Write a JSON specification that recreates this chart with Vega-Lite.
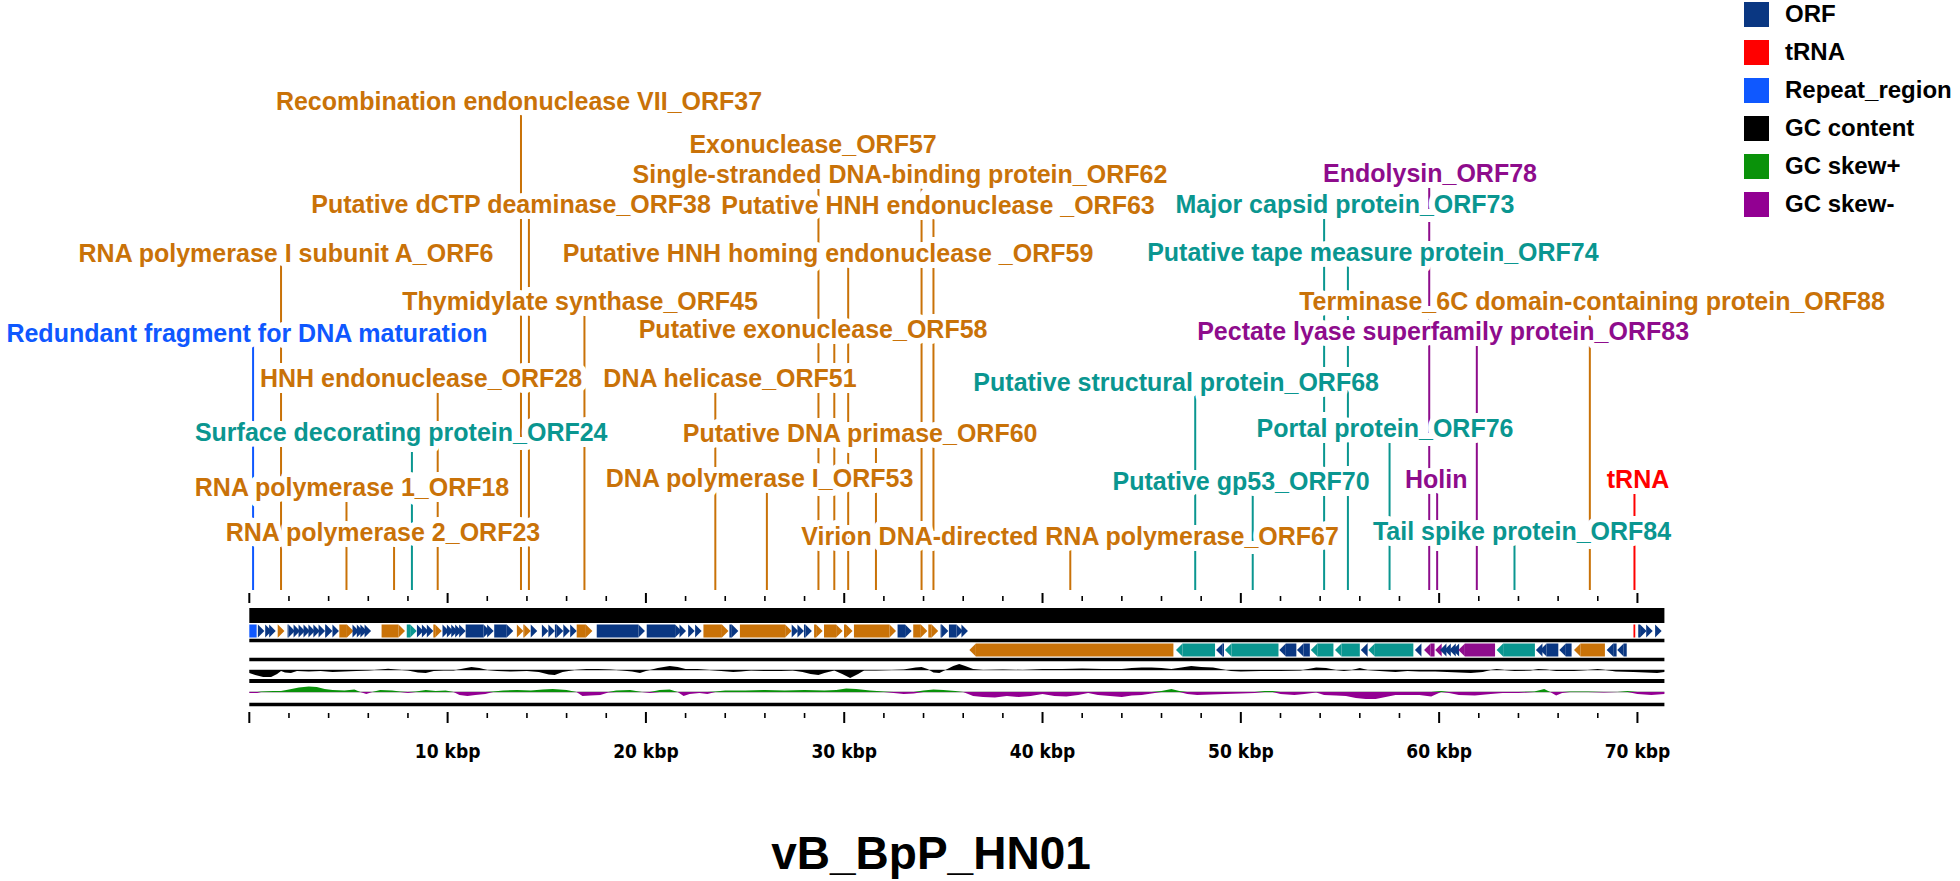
{
"$schema": "https://vega.github.io/schema/vega-lite/v6.json",
"width": 1960, "height": 881, "autosize": "none", "padding": 0,
"background": "white",
"config": {"view": {"stroke": null}, "axis": {"disable": true}},
"title": {"text": "vB_BpP_HN01", "orient": "bottom", "frame": "group", "anchor": "middle", "offset": -12, "dx": -49, "baseline": "alphabetic", "fontSize": 46, "font": "Liberation Sans", "fontWeight": "bold", "color": "#000000"},
"datasets": {
"genes": [
{"s":0.00,"e":0.37,"st":"0","c":"Repeat_region"},
{"s":69.80,"e":69.89,"st":"0","c":"tRNA"},
{"s":0.59,"e":0.76,"st":"+","c":"ORF"},{"s":0.93,"e":1.13,"st":"+","c":"ORF"},{"s":1.13,"e":1.33,"st":"+","c":"ORF"},
{"s":1.43,"e":1.77,"st":"+","c":"Replication"},
{"s":1.93,"e":2.30,"st":"+","c":"ORF"},{"s":2.30,"e":2.56,"st":"+","c":"ORF"},{"s":2.56,"e":2.81,"st":"+","c":"ORF"},{"s":2.81,"e":3.06,"st":"+","c":"ORF"},{"s":3.06,"e":3.31,"st":"+","c":"ORF"},{"s":3.31,"e":3.56,"st":"+","c":"ORF"},{"s":3.56,"e":3.82,"st":"+","c":"ORF"},{"s":3.82,"e":4.19,"st":"+","c":"ORF"},{"s":4.19,"e":4.52,"st":"+","c":"ORF"},
{"s":4.54,"e":5.25,"st":"+","c":"Replication"},
{"s":5.33,"e":5.53,"st":"+","c":"ORF"},{"s":5.53,"e":5.75,"st":"+","c":"ORF"},{"s":5.75,"e":5.93,"st":"+","c":"ORF"},{"s":5.93,"e":6.14,"st":"+","c":"ORF"},
{"s":6.67,"e":7.85,"st":"+","c":"Replication"},
{"s":7.94,"e":8.44,"st":"+","c":"Structural"},
{"s":8.52,"e":8.78,"st":"+","c":"ORF"},{"s":8.78,"e":9.03,"st":"+","c":"ORF"},{"s":9.03,"e":9.28,"st":"+","c":"ORF"},
{"s":9.28,"e":9.70,"st":"+","c":"Replication"},
{"s":9.82,"e":10.07,"st":"+","c":"ORF"},{"s":10.07,"e":10.29,"st":"+","c":"ORF"},{"s":10.29,"e":10.51,"st":"+","c":"ORF"},{"s":10.51,"e":10.71,"st":"+","c":"ORF"},{"s":10.71,"e":10.91,"st":"+","c":"ORF"},
{"s":10.91,"e":12.14,"st":"+","c":"ORF"},{"s":12.14,"e":12.32,"st":"+","c":"ORF"},{"s":12.35,"e":13.31,"st":"+","c":"ORF"},
{"s":13.48,"e":13.82,"st":"+","c":"Replication"},{"s":13.82,"e":14.19,"st":"+","c":"Replication"},
{"s":14.27,"e":14.52,"st":"+","c":"ORF"},
{"s":14.74,"e":15.08,"st":"+","c":"ORF"},{"s":15.08,"e":15.41,"st":"+","c":"ORF"},{"s":15.41,"e":15.83,"st":"+","c":"ORF"},{"s":15.83,"e":16.17,"st":"+","c":"ORF"},{"s":16.17,"e":16.51,"st":"+","c":"ORF"},
{"s":16.51,"e":17.30,"st":"+","c":"Replication"},
{"s":17.52,"e":19.95,"st":"+","c":"ORF"},{"s":20.04,"e":21.80,"st":"+","c":"ORF"},{"s":21.80,"e":22.02,"st":"+","c":"ORF"},{"s":22.14,"e":22.46,"st":"+","c":"ORF"},{"s":22.49,"e":22.81,"st":"+","c":"ORF"},
{"s":22.90,"e":24.16,"st":"+","c":"Replication"},{"s":24.21,"e":24.66,"st":"+","c":"ORF"},{"s":24.74,"e":27.35,"st":"+","c":"Replication"},
{"s":27.40,"e":27.68,"st":"+","c":"ORF"},{"s":27.68,"e":27.97,"st":"+","c":"ORF"},{"s":27.97,"e":28.37,"st":"+","c":"ORF"},
{"s":28.48,"e":28.91,"st":"+","c":"Replication"},{"s":28.98,"e":29.92,"st":"+","c":"Replication"},{"s":29.99,"e":30.42,"st":"+","c":"Replication"},{"s":30.49,"e":32.61,"st":"+","c":"Replication"},
{"s":32.69,"e":33.40,"st":"+","c":"ORF"},{"s":33.48,"e":34.19,"st":"+","c":"Replication"},{"s":34.24,"e":34.74,"st":"+","c":"Replication"},
{"s":34.86,"e":35.25,"st":"+","c":"ORF"},{"s":35.28,"e":35.99,"st":"+","c":"ORF"},{"s":35.99,"e":36.24,"st":"+","c":"ORF"},
{"s":70.04,"e":70.46,"st":"+","c":"ORF"},{"s":70.46,"e":70.77,"st":"+","c":"ORF"},{"s":71.05,"e":71.22,"st":"+","c":"ORF"},
{"s":36.31,"e":46.60,"st":"-","c":"Replication"},{"s":46.73,"e":48.70,"st":"-","c":"Structural"},{"s":48.75,"e":49.15,"st":"-","c":"ORF"},{"s":49.20,"e":51.90,"st":"-","c":"Structural"},
{"s":51.94,"e":52.80,"st":"-","c":"ORF"},{"s":52.83,"e":53.48,"st":"-","c":"ORF"},{"s":53.53,"e":54.67,"st":"-","c":"Structural"},{"s":54.75,"e":56.00,"st":"-","c":"Structural"},
{"s":56.05,"e":56.40,"st":"-","c":"ORF"},{"s":56.43,"e":58.70,"st":"-","c":"Structural"},{"s":58.78,"e":58.95,"st":"-","c":"ORF"},{"s":59.24,"e":59.77,"st":"-","c":"Lysis"},
{"s":59.80,"e":60.02,"st":"-","c":"Lysis"},{"s":60.04,"e":60.25,"st":"-","c":"ORF"},{"s":60.26,"e":60.46,"st":"-","c":"ORF"},{"s":60.51,"e":60.68,"st":"-","c":"ORF"},{"s":60.68,"e":60.88,"st":"-","c":"ORF"},
{"s":60.97,"e":62.82,"st":"-","c":"Lysis"},{"s":62.90,"e":64.83,"st":"-","c":"Structural"},{"s":64.88,"e":65.05,"st":"-","c":"ORF"},{"s":65.09,"e":66.01,"st":"-","c":"ORF"},{"s":66.06,"e":66.68,"st":"-","c":"ORF"},
{"s":66.80,"e":68.36,"st":"-","c":"Replication"},{"s":68.45,"e":68.95,"st":"-","c":"ORF"},{"s":68.98,"e":69.46,"st":"-","c":"ORF"}
],
"labels": [
{"t":"Recombination endonuclease VII_ORF37","c":"Replication","lx":13.60,"ly":101.5,"gx":13.70},
{"t":"Exonuclease_ORF57","c":"Replication","lx":28.43,"ly":144.5,"gx":28.70},
{"t":"Single-stranded DNA-binding protein_ORF62","c":"Replication","lx":32.81,"ly":174.5,"gx":33.90},
{"t":"Endolysin_ORF78","c":"Lysis","lx":59.54,"ly":173.5,"gx":59.50},
{"t":"Putative dCTP deaminase_ORF38","c":"Replication","lx":13.20,"ly":204.5,"gx":14.10},
{"t":"Putative HNH endonuclease _ORF63","c":"Replication","lx":34.73,"ly":206,"gx":34.50},
{"t":"Major capsid protein_ORF73","c":"Structural","lx":55.25,"ly":204.5,"gx":54.20},
{"t":"RNA polymerase I subunit A_ORF6","c":"Replication","lx":1.85,"ly":253.5,"gx":1.60},
{"t":"Putative HNH homing endonuclease _ORF59","c":"Replication","lx":29.18,"ly":253.5,"gx":30.20},
{"t":"Putative tape measure protein_ORF74","c":"Structural","lx":56.66,"ly":252.5,"gx":55.40},
{"t":"Thymidylate synthase_ORF45","c":"Replication","lx":16.68,"ly":301.5,"gx":16.90},
{"t":"Terminase_6C domain-containing protein_ORF88","c":"Replication","lx":67.71,"ly":301.5,"gx":67.60},
{"t":"Redundant fragment for DNA maturation","c":"Repeat_region","lx":-0.12,"ly":333.5,"gx":0.19},
{"t":"Putative exonuclease_ORF58","c":"Replication","lx":28.43,"ly":329.5,"gx":29.50},
{"t":"Pectate lyase superfamily protein_ORF83","c":"Lysis","lx":60.20,"ly":331.5,"gx":61.90},
{"t":"HNH endonuclease_ORF28","c":"Replication","lx":8.66,"ly":378.5,"gx":9.50},
{"t":"DNA helicase_ORF51","c":"Replication","lx":24.24,"ly":378.5,"gx":23.50},
{"t":"Putative structural protein_ORF68","c":"Structural","lx":46.74,"ly":382.5,"gx":47.70},
{"t":"Surface decorating protein_ORF24","c":"Structural","lx":7.66,"ly":432.5,"gx":8.20},
{"t":"Putative DNA primase_ORF60","c":"Replication","lx":30.80,"ly":433.5,"gx":31.60},
{"t":"Portal protein_ORF76","c":"Structural","lx":57.27,"ly":428.5,"gx":57.50},
{"t":"RNA polymerase 1_ORF18","c":"Replication","lx":5.18,"ly":487.5,"gx":4.90},
{"t":"DNA polymerase I_ORF53","c":"Replication","lx":25.73,"ly":478.5,"gx":26.10},
{"t":"Putative gp53_ORF70","c":"Structural","lx":50.01,"ly":481.5,"gx":50.60},
{"t":"Holin","c":"Lysis","lx":59.85,"ly":479.5,"gx":59.90},
{"t":"tRNA","c":"tRNA","lx":70.03,"ly":479.5,"gx":69.85},
{"t":"RNA polymerase 2_ORF23","c":"Replication","lx":6.74,"ly":532.5,"gx":7.30},
{"t":"Virion DNA-directed RNA polymerase_ORF67","c":"Replication","lx":41.39,"ly":536.5,"gx":41.40},
{"t":"Tail spike protein_ORF84","c":"Structural","lx":64.18,"ly":531.5,"gx":63.80}
],
"ticks": [
{"k":0,"m":1},{"k":2,"m":0},{"k":4,"m":0},{"k":6,"m":0},{"k":8,"m":0},{"k":10,"m":1},{"k":12,"m":0},{"k":14,"m":0},{"k":16,"m":0},{"k":18,"m":0},
{"k":20,"m":1},{"k":22,"m":0},{"k":24,"m":0},{"k":26,"m":0},{"k":28,"m":0},{"k":30,"m":1},{"k":32,"m":0},{"k":34,"m":0},{"k":36,"m":0},{"k":38,"m":0},
{"k":40,"m":1},{"k":42,"m":0},{"k":44,"m":0},{"k":46,"m":0},{"k":48,"m":0},{"k":50,"m":1},{"k":52,"m":0},{"k":54,"m":0},{"k":56,"m":0},{"k":58,"m":0},
{"k":60,"m":1},{"k":62,"m":0},{"k":64,"m":0},{"k":66,"m":0},{"k":68,"m":0},{"k":70,"m":1}
],
"axlab": [
{"k":10,"t":"10 kbp"},{"k":20,"t":"20 kbp"},{"k":30,"t":"30 kbp"},{"k":40,"t":"40 kbp"},{"k":50,"t":"50 kbp"},{"k":60,"t":"60 kbp"},{"k":70,"t":"70 kbp"}
],
"gc": [
{"k":0.0,"v":-3},{"k":0.3,"v":-5},{"k":0.7,"v":-7},{"k":1.1,"v":-7},{"k":1.4,"v":-4},{"k":1.6,"v":-1},{"k":1.8,"v":-2.5},{"k":2.1,"v":-3},{"k":2.4,"v":-1},{"k":3.0,"v":-1.5},
{"k":3.6,"v":-1},{"k":4.2,"v":-2},{"k":4.8,"v":-1.5},{"k":5.4,"v":-1},{"k":6.0,"v":-0.5},{"k":6.6,"v":0.5},{"k":7.0,"v":1.2},{"k":7.4,"v":0.5},{"k":8.0,"v":-0.5},{"k":8.5,"v":-2.5},
{"k":8.9,"v":-3},{"k":9.3,"v":-1},{"k":9.8,"v":-0.5},{"k":10.3,"v":-0.5},{"k":10.8,"v":1.5},{"k":11.2,"v":3},{"k":11.6,"v":2},{"k":12.0,"v":0},{"k":12.5,"v":-1},{"k":13.2,"v":-1.5},
{"k":14.0,"v":-1},{"k":14.6,"v":-2},{"k":15.1,"v":-4.5},{"k":15.4,"v":-5},{"k":15.8,"v":-2},{"k":16.4,"v":0},{"k":17.0,"v":1},{"k":17.6,"v":1},{"k":18.2,"v":0.5},{"k":18.8,"v":-0.5},
{"k":19.3,"v":-1.5},{"k":19.7,"v":-3},{"k":20.0,"v":-1},{"k":20.6,"v":2},{"k":21.2,"v":4},{"k":21.6,"v":3},{"k":22.0,"v":1},{"k":22.6,"v":1},{"k":23.2,"v":0},{"k":23.8,"v":-1},
{"k":24.4,"v":-2},{"k":24.8,"v":-1.5},{"k":25.3,"v":-0.5},{"k":26.0,"v":-1},{"k":26.8,"v":-1},{"k":27.4,"v":-0.5},{"k":27.9,"v":-2},{"k":28.3,"v":-4},{"k":28.7,"v":-5},{"k":29.0,"v":-3},
{"k":29.5,"v":-0.5},{"k":29.9,"v":-4},{"k":30.3,"v":-8},{"k":30.7,"v":-4},{"k":31.0,"v":-0.5},{"k":31.6,"v":-0.5},{"k":32.4,"v":0},{"k":33.0,"v":0.5},{"k":33.6,"v":2.5},{"k":33.9,"v":3},
{"k":34.2,"v":1},{"k":34.5,"v":-2.5},{"k":34.8,"v":-3},{"k":35.1,"v":0},{"k":35.5,"v":4},{"k":35.8,"v":6},{"k":36.1,"v":4},{"k":36.5,"v":1},{"k":37.0,"v":0},{"k":38.0,"v":0.5},
{"k":39.0,"v":0},{"k":40.0,"v":1},{"k":41.0,"v":1},{"k":42.0,"v":1.5},{"k":43.0,"v":1},{"k":44.0,"v":1},{"k":44.5,"v":2},{"k":45.0,"v":2.5},{"k":45.5,"v":2.5},{"k":46.0,"v":2},
{"k":46.5,"v":1},{"k":47.0,"v":2.5},{"k":47.5,"v":4},{"k":48.0,"v":3},{"k":48.6,"v":2.5},{"k":49.0,"v":1},{"k":49.5,"v":-1},{"k":50.0,"v":-1.5},{"k":51.0,"v":-1},{"k":52.0,"v":-1},
{"k":53.0,"v":-0.5},{"k":53.4,"v":1},{"k":53.8,"v":2.5},{"k":54.3,"v":2},{"k":54.8,"v":0},{"k":55.2,"v":-1},{"k":55.6,"v":0},{"k":56.0,"v":2},{"k":56.4,"v":0},{"k":57.0,"v":-1},
{"k":57.8,"v":-2},{"k":58.4,"v":-1},{"k":59.0,"v":-1.5},{"k":59.8,"v":-1.5},{"k":60.4,"v":-2},{"k":61.0,"v":-2.5},{"k":61.6,"v":-3},{"k":62.2,"v":-2},{"k":62.6,"v":0},{"k":62.9,"v":1},
{"k":63.3,"v":0},{"k":63.8,"v":-1},{"k":64.6,"v":-0.5},{"k":65.0,"v":1},{"k":65.4,"v":0.5},{"k":65.9,"v":-1},{"k":66.8,"v":-1},{"k":67.5,"v":0},{"k":68.0,"v":1},{"k":68.4,"v":0},
{"k":68.9,"v":-1.5},{"k":69.8,"v":-2},{"k":70.4,"v":-2.5},{"k":71.0,"v":-3},{"k":71.36,"v":-2}
],
"skew": [
{"k":0.0,"v":-1},{"k":0.4,"v":-1},{"k":0.6,"v":0.5},{"k":1.2,"v":1},{"k":1.6,"v":1},{"k":2.0,"v":2.5},{"k":2.5,"v":4.5},{"k":3.0,"v":5.5},{"k":3.4,"v":5},{"k":3.8,"v":3},
{"k":4.2,"v":2},{"k":4.8,"v":1.5},{"k":5.3,"v":2.5},{"k":5.6,"v":0},{"k":5.9,"v":-2},{"k":6.2,"v":0},{"k":6.6,"v":2},{"k":7.2,"v":1.5},{"k":7.6,"v":0.5},{"k":8.0,"v":-1},
{"k":8.4,"v":0.5},{"k":8.9,"v":2},{"k":9.4,"v":1},{"k":9.9,"v":1.5},{"k":10.3,"v":0},{"k":10.6,"v":-3},{"k":11.0,"v":-4},{"k":11.4,"v":-3},{"k":11.9,"v":-2},{"k":12.3,"v":0.5},
{"k":12.8,"v":1.5},{"k":13.5,"v":2},{"k":14.2,"v":1.5},{"k":14.8,"v":2.5},{"k":15.3,"v":3},{"k":16.0,"v":2},{"k":16.5,"v":0},{"k":16.8,"v":-4},{"k":17.2,"v":-3.5},{"k":17.7,"v":-3},
{"k":18.1,"v":-0.5},{"k":18.5,"v":1.5},{"k":19.2,"v":2},{"k":19.8,"v":0},{"k":20.2,"v":-1},{"k":20.7,"v":2},{"k":21.2,"v":2.5},{"k":21.6,"v":0},{"k":21.9,"v":-4},{"k":22.2,"v":-2},
{"k":22.7,"v":-1},{"k":23.1,"v":-2},{"k":23.5,"v":0.5},{"k":24.0,"v":1.5},{"k":25.0,"v":1.5},{"k":26.0,"v":2},{"k":27.0,"v":1.5},{"k":28.0,"v":2},{"k":29.0,"v":1.5},{"k":29.6,"v":2},
{"k":30.1,"v":3.5},{"k":30.6,"v":3},{"k":31.3,"v":1.5},{"k":32.0,"v":0.5},{"k":32.5,"v":-1},{"k":33.0,"v":-2},{"k":33.5,"v":-1.5},{"k":34.0,"v":1.5},{"k":34.5,"v":2.5},{"k":35.0,"v":2},
{"k":35.6,"v":1},{"k":36.0,"v":0},{"k":36.5,"v":-4},{"k":37.0,"v":-5},{"k":37.6,"v":-5.5},{"k":38.2,"v":-4},{"k":38.8,"v":-5},{"k":39.4,"v":-4},{"k":40.0,"v":-2},{"k":40.6,"v":-4},
{"k":41.2,"v":-4.5},{"k":41.8,"v":-3},{"k":42.3,"v":-1},{"k":42.8,"v":-3},{"k":43.4,"v":-4},{"k":44.0,"v":-5},{"k":44.5,"v":-3.5},{"k":45.0,"v":-3},{"k":45.5,"v":-1.5},{"k":46.0,"v":1},
{"k":46.5,"v":3},{"k":46.9,"v":1},{"k":47.3,"v":-2},{"k":47.8,"v":-3},{"k":48.5,"v":-2.5},{"k":49.2,"v":-2},{"k":50.0,"v":-1.5},{"k":50.7,"v":-1},{"k":51.2,"v":1},{"k":51.6,"v":1},
{"k":52.0,"v":-2},{"k":52.7,"v":-3},{"k":53.2,"v":-2},{"k":53.8,"v":-0.5},{"k":54.2,"v":-3},{"k":54.8,"v":-3.5},{"k":55.3,"v":-4},{"k":55.8,"v":-6},{"k":56.3,"v":-7},{"k":56.8,"v":-7},
{"k":57.3,"v":-5},{"k":57.8,"v":-3},{"k":58.4,"v":-3},{"k":59.0,"v":-3},{"k":59.6,"v":-4.5},{"k":60.1,"v":1},{"k":60.5,"v":-1},{"k":61.0,"v":-3},{"k":61.8,"v":-3.5},{"k":62.6,"v":-2},
{"k":63.2,"v":-1},{"k":64.0,"v":-1},{"k":64.8,"v":0.5},{"k":65.3,"v":3},{"k":65.6,"v":0},{"k":65.9,"v":-3.5},{"k":66.2,"v":-1},{"k":66.6,"v":0.5},{"k":67.5,"v":0.5},{"k":68.3,"v":-0.5},
{"k":69.0,"v":0},{"k":69.5,"v":1},{"k":70.0,"v":-2},{"k":70.7,"v":-3},{"k":71.36,"v":-2}
],
"one": [{}]
},
"layer": [
{"layer": [
 {"data":{"name":"one"},"mark":{"type":"rule","color":"#000000","strokeWidth":15},
  "encoding":{"x":{"datum":0,"type":"quantitative","scale":{"domain":[-12.572,86.266],"nice":false,"zero":false}},"x2":{"datum":71.36},"y":{"datum":615.5,"type":"quantitative","scale":{"domain":[0,881],"reverse":true,"nice":false,"zero":false}}}},
 {"data":{"name":"one"},"mark":{"type":"rule","color":"#000000","strokeWidth":3.5},
  "encoding":{"x":{"datum":0,"type":"quantitative"},"x2":{"datum":71.36},"y":{"datum":640.5,"type":"quantitative"}}},
 {"data":{"name":"one"},"mark":{"type":"rule","color":"#000000","strokeWidth":3.5},
  "encoding":{"x":{"datum":0,"type":"quantitative"},"x2":{"datum":71.36},"y":{"datum":659.5,"type":"quantitative"}}},
 {"data":{"name":"one"},"mark":{"type":"rule","color":"#000000","strokeWidth":4},
  "encoding":{"x":{"datum":0,"type":"quantitative"},"x2":{"datum":71.36},"y":{"datum":681,"type":"quantitative"}}},
 {"data":{"name":"one"},"mark":{"type":"rule","color":"#000000","strokeWidth":3.5},
  "encoding":{"x":{"datum":0,"type":"quantitative"},"x2":{"datum":71.36},"y":{"datum":704.5,"type":"quantitative"}}},
 {"data":{"name":"one"},"mark":{"type":"rule","color":"#888888","strokeWidth":1},
  "encoding":{"x":{"datum":0,"type":"quantitative"},"x2":{"datum":71.36},"y":{"datum":670,"type":"quantitative"}}},
 {"data":{"name":"one"},"mark":{"type":"rule","color":"#888888","strokeWidth":1},
  "encoding":{"x":{"datum":0,"type":"quantitative"},"x2":{"datum":71.36},"y":{"datum":692,"type":"quantitative"}}},
 {"data":{"name":"ticks"},"transform":[{"filter":"datum.m==1"}],"mark":{"type":"rule","color":"#000000","strokeWidth":2},
  "encoding":{"x":{"field":"k","type":"quantitative"},"y":{"datum":593,"type":"quantitative"},"y2":{"datum":603}}},
 {"data":{"name":"ticks"},"transform":[{"filter":"datum.m==0"}],"mark":{"type":"rule","color":"#000000","strokeWidth":1.6},
  "encoding":{"x":{"field":"k","type":"quantitative"},"y":{"datum":596,"type":"quantitative"},"y2":{"datum":601}}},
 {"data":{"name":"ticks"},"transform":[{"filter":"datum.m==1"}],"mark":{"type":"rule","color":"#000000","strokeWidth":2},
  "encoding":{"x":{"field":"k","type":"quantitative"},"y":{"datum":712,"type":"quantitative"},"y2":{"datum":723}}},
 {"data":{"name":"ticks"},"transform":[{"filter":"datum.m==0"}],"mark":{"type":"rule","color":"#000000","strokeWidth":1.6},
  "encoding":{"x":{"field":"k","type":"quantitative"},"y":{"datum":713,"type":"quantitative"},"y2":{"datum":718}}},
 {"data":{"name":"axlab"},"mark":{"type":"text","font":"Liberation Sans Narrow, DejaVu Sans Condensed, sans-serif","fontWeight":"bold","fontSize":19,"align":"center","baseline":"middle","color":"#000000"},
  "encoding":{"x":{"field":"k","type":"quantitative"},"y":{"datum":752,"type":"quantitative"},"text":{"field":"t"}}},
 {"data":{"name":"genes"},"transform":[{"filter":"datum.st=='0'"}],"mark":{"type":"rect"},
  "encoding":{"x":{"field":"s","type":"quantitative"},"x2":{"field":"e"},"y":{"datum":624.5,"type":"quantitative"},"y2":{"datum":637.5},
   "color":{"field":"c","type":"nominal","scale":{"domain":["ORF","tRNA","Repeat_region","GC content","GC skew+","GC skew-","Replication","Structural","Lysis"],"range":["#0A3782","#FF0000","#0F58FF","#000000","#0A920A","#920092","#C97208","#0A9690","#8E0C8C"]},
    "legend":{"values":["ORF","tRNA","Repeat_region","GC content","GC skew+","GC skew-"],"orient":"none","legendX":1744,"legendY":2,"title":null,"symbolType":"square","symbolSize":625,"symbolStrokeWidth":0,"symbolOpacity":1,"labelFont":"Liberation Sans","labelFontSize":24,"labelFontWeight":"bold","labelColor":"#000000","labelOffset":16,"rowPadding":13,"padding":0,"labelLimit":500}}}},
 {"data":{"name":"genes"},"transform":[{"filter":"datum.st=='+' && datum.e-datum.s>0.34"}],"mark":{"type":"rect","x2Offset":-6.5},
  "encoding":{"x":{"field":"s","type":"quantitative"},"x2":{"field":"e"},"y":{"datum":624.5,"type":"quantitative"},"y2":{"datum":637.5},
   "color":{"field":"c","type":"nominal","legend":null}}},
 {"data":{"name":"genes"},"transform":[{"filter":"datum.st=='+'"}],"mark":{"type":"point","shape":"M0,0L-1,-1L-1,1Z","size":169,"filled":true,"opacity":1,"strokeWidth":0},
  "encoding":{"x":{"field":"e","type":"quantitative"},"y":{"datum":631,"type":"quantitative"},
   "color":{"field":"c","type":"nominal","legend":null}}},
 {"data":{"name":"genes"},"transform":[{"filter":"datum.st=='-' && datum.e-datum.s>0.34"}],"mark":{"type":"rect","xOffset":6.5},
  "encoding":{"x":{"field":"s","type":"quantitative"},"x2":{"field":"e"},"y":{"datum":643.5,"type":"quantitative"},"y2":{"datum":656.5},
   "color":{"field":"c","type":"nominal","legend":null}}},
 {"data":{"name":"genes"},"transform":[{"filter":"datum.st=='-'"}],"mark":{"type":"point","shape":"M0,0L1,-1L1,1Z","size":169,"filled":true,"opacity":1,"strokeWidth":0},
  "encoding":{"x":{"field":"s","type":"quantitative"},"y":{"datum":650,"type":"quantitative"},
   "color":{"field":"c","type":"nominal","legend":null}}},
 {"data":{"name":"labels"},"mark":{"type":"rule","strokeWidth":2,"yOffset":12},
  "encoding":{"x":{"field":"gx","type":"quantitative"},"y":{"field":"ly","type":"quantitative"},"y2":{"datum":590},
   "color":{"field":"c","type":"nominal","legend":null}}},
 {"data":{"name":"labels"},"mark":{"type":"text","font":"Liberation Sans","fontWeight":"bold","fontSize":25,"align":"center","baseline":"middle","color":"#FFFFFF","stroke":"#FFFFFF","strokeWidth":12,"strokeJoin":"round"},
  "encoding":{"x":{"field":"lx","type":"quantitative"},"y":{"field":"ly","type":"quantitative"},"text":{"field":"t"}}},
 {"data":{"name":"labels"},"mark":{"type":"text","font":"Liberation Sans","fontWeight":"bold","fontSize":25,"align":"center","baseline":"middle"},
  "encoding":{"x":{"field":"lx","type":"quantitative"},"y":{"field":"ly","type":"quantitative"},"text":{"field":"t"},
   "color":{"field":"c","type":"nominal","legend":null}}}
]},
{"data":{"name":"gc"},"mark":{"type":"area","color":"#000000","opacity":1},
 "encoding":{"x":{"field":"k","type":"quantitative"},"y":{"field":"v","type":"quantitative","scale":{"domain":[-8,8],"range":[678,662],"clamp":true,"nice":false,"zero":false}},"y2":{"datum":0}}},
{"data":{"name":"skew"},"mark":{"type":"area","color":"#0A920A","opacity":1},
 "encoding":{"x":{"field":"k","type":"quantitative"},"y":{"field":"v","type":"quantitative","scale":{"domain":[0,8],"range":[692,684],"clamp":true,"nice":false,"zero":false}},"y2":{"datum":0}}},
{"data":{"name":"skew"},"mark":{"type":"area","color":"#920092","opacity":1},
 "encoding":{"x":{"field":"k","type":"quantitative"},"y":{"field":"v","type":"quantitative","scale":{"domain":[-8,0],"range":[700,692],"clamp":true,"nice":false,"zero":false}},"y2":{"datum":0}}}
],
"resolve": {"scale": {"y": "independent"}}
}
